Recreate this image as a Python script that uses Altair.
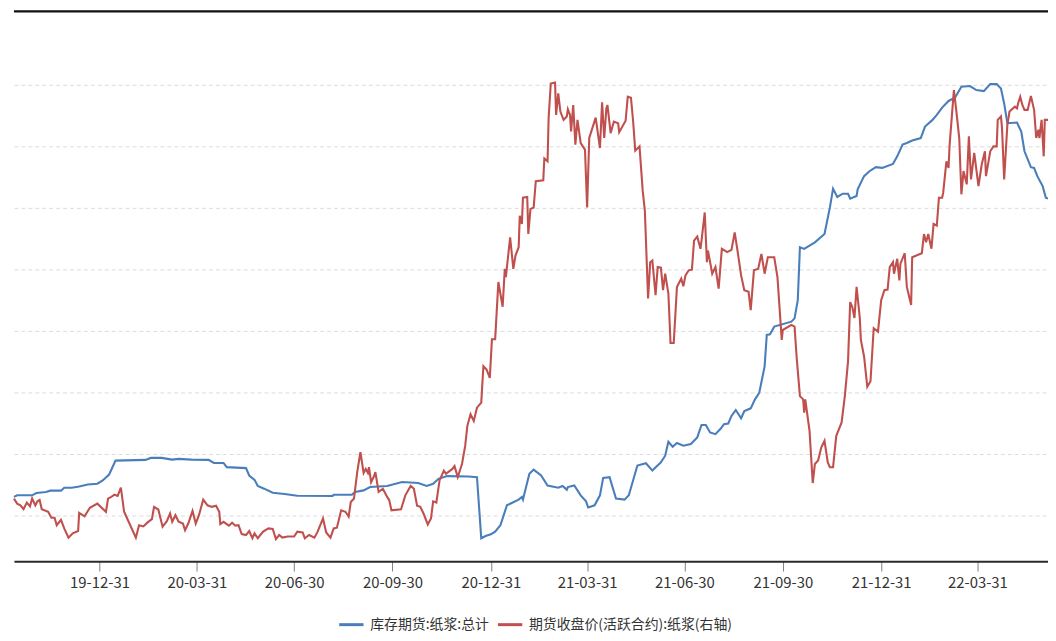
import altair as alt
import pandas as pd

NAME_B = "库存期货:纸浆:总计"
NAME_R = "期货收盘价(活跃合约):纸浆(右轴)"

blue_dates = [
    "2019-10-12", "2019-10-15", "2019-10-29", "2019-11-02", "2019-11-11", "2019-11-15",
    "2019-11-25", "2019-11-28", "2019-12-05", "2019-12-12", "2019-12-20", "2019-12-29",
    "2020-01-03", "2020-01-09", "2020-01-15", "2020-02-12", "2020-02-17", "2020-02-27",
    "2020-03-08", "2020-03-14", "2020-03-26", "2020-04-11", "2020-04-16", "2020-04-25",
    "2020-04-28", "2020-05-16", "2020-05-19", "2020-05-24", "2020-05-27", "2020-06-02",
    "2020-06-10", "2020-06-21", "2020-07-03", "2020-08-05", "2020-08-06", "2020-08-23",
    "2020-08-26", "2020-09-03", "2020-09-09", "2020-09-25", "2020-10-09", "2020-10-24",
    "2020-11-01", "2020-11-07", "2020-11-12", "2020-11-20", "2020-12-10", "2020-12-18",
    "2020-12-22", "2020-12-26", "2020-12-31", "2021-01-04", "2021-01-09", "2021-01-15",
    "2021-01-26", "2021-01-29", "2021-01-30", "2021-02-05", "2021-02-09", "2021-02-16",
    "2021-02-22", "2021-03-04", "2021-03-08", "2021-03-12", "2021-03-13", "2021-03-19",
    "2021-03-25", "2021-03-30", "2021-04-01", "2021-04-07", "2021-04-12", "2021-04-15",
    "2021-04-21", "2021-04-27", "2021-05-05", "2021-05-09", "2021-05-17", "2021-05-25",
    "2021-05-31", "2021-06-08", "2021-06-12", "2021-06-15", "2021-06-19", "2021-06-23",
    "2021-06-29", "2021-07-06", "2021-07-12", "2021-07-16", "2021-07-20", "2021-07-24",
    "2021-07-29", "2021-08-03", "2021-08-06", "2021-08-10", "2021-08-13", "2021-08-17",
    "2021-08-22", "2021-08-25", "2021-08-31", "2021-09-04", "2021-09-08", "2021-09-13",
    "2021-09-15", "2021-09-18", "2021-09-22", "2021-10-08", "2021-10-11", "2021-10-14",
    "2021-10-16", "2021-10-20", "2021-10-30", "2021-11-08", "2021-11-13", "2021-11-16",
    "2021-11-20", "2021-11-25", "2021-11-30", "2021-12-02", "2021-12-08", "2021-12-09",
    "2021-12-15", "2021-12-20", "2021-12-26", "2022-01-01", "2022-01-11", "2022-01-15",
    "2022-01-20", "2022-01-24", "2022-01-29", "2022-02-06", "2022-02-10", "2022-02-17",
    "2022-02-21", "2022-02-26", "2022-03-04", "2022-03-10", "2022-03-16", "2022-03-24",
    "2022-03-30", "2022-04-06", "2022-04-12", "2022-04-18", "2022-04-22", "2022-04-25",
    "2022-04-28", "2022-05-07", "2022-05-11", "2022-05-14", "2022-05-20", "2022-05-23",
    "2022-05-26", "2022-05-31", "2022-06-03", "2022-06-05",
]
blue_vals = [
    6.51, 6.64, 6.64, 6.83, 6.91, 7.02,
    7.02, 7.26, 7.26, 7.36, 7.52, 7.58,
    7.85, 8.33, 9.46, 9.52, 9.68, 9.68,
    9.54, 9.60, 9.54, 9.52, 9.27, 9.27,
    8.93, 8.85, 8.25, 7.90, 7.40, 7.18,
    6.85, 6.75, 6.61, 6.59, 6.69, 6.69,
    6.91, 7.04, 7.31, 7.40, 7.72, 7.64,
    7.40, 7.58, 7.98, 8.20, 8.17, 8.12,
    3.15, 3.33, 3.47, 3.69, 4.22, 5.83,
    6.29, 6.51, 6.29, 8.39, 8.73, 8.25,
    7.44, 7.26, 7.40, 7.10, 7.31, 7.44,
    6.64, 6.15, 5.65, 5.83, 6.64, 8.06,
    8.12, 6.37, 6.29, 6.64, 9.06, 9.25,
    8.65, 9.33, 9.86, 10.99, 10.59, 10.89,
    10.67, 10.81, 11.35, 12.36, 12.36, 11.75,
    11.61, 12.07, 12.42, 12.48, 13.09, 13.57,
    12.90, 13.49, 13.71, 14.44, 14.98, 17.12,
    19.68, 19.73, 20.35, 20.75, 21.02, 22.50,
    26.80, 26.67, 27.20, 27.88, 30.02, 31.56,
    30.89, 31.15, 31.15, 30.75, 30.97, 31.51,
    32.58, 32.98, 33.31, 33.25, 33.57, 34.19,
    35.14, 35.27, 35.48, 35.67, 36.61, 37.15,
    37.56, 38.15, 38.69, 38.95, 39.84, 39.90,
    39.57, 39.49, 40.06, 40.06, 39.70, 38.49,
    36.88, 36.94, 36.21, 34.60, 33.31, 33.25,
    32.58, 31.77, 30.83, 30.75,
]

red_dates = [
    "2019-10-12", "2019-10-15", "2019-10-18", "2019-10-21", "2019-10-24", "2019-10-27",
    "2019-10-29", "2019-11-01", "2019-11-03", "2019-11-05", "2019-11-07", "2019-11-13",
    "2019-11-16", "2019-11-19", "2019-11-21", "2019-11-25", "2019-11-28", "2019-12-02",
    "2019-12-06", "2019-12-11", "2019-12-12", "2019-12-17", "2019-12-22", "2019-12-29",
    "2020-01-02", "2020-01-06", "2020-01-08", "2020-01-11", "2020-01-14", "2020-01-17",
    "2020-01-20", "2020-01-23", "2020-01-28", "2020-02-03", "2020-02-06", "2020-02-10",
    "2020-02-14", "2020-02-18", "2020-02-20", "2020-02-24", "2020-02-28", "2020-03-03",
    "2020-03-06", "2020-03-08", "2020-03-11", "2020-03-14", "2020-03-18", "2020-03-20",
    "2020-03-23", "2020-03-27", "2020-03-30", "2020-04-02", "2020-04-06", "2020-04-10",
    "2020-04-14", "2020-04-18", "2020-04-21", "2020-04-22", "2020-04-25", "2020-04-30",
    "2020-05-03", "2020-05-06", "2020-05-09", "2020-05-12", "2020-05-16", "2020-05-19",
    "2020-05-22", "2020-05-24", "2020-05-27", "2020-06-01", "2020-06-06", "2020-06-10",
    "2020-06-13", "2020-06-16", "2020-06-19", "2020-06-24", "2020-06-30", "2020-07-03",
    "2020-07-08", "2020-07-10", "2020-07-14", "2020-07-19", "2020-07-22", "2020-07-27",
    "2020-07-30", "2020-08-03", "2020-08-06", "2020-08-09", "2020-08-13", "2020-08-17",
    "2020-08-20", "2020-08-22", "2020-08-25", "2020-08-28", "2020-08-31", "2020-09-03",
    "2020-09-05", "2020-09-07", "2020-09-08", "2020-09-10", "2020-09-13", "2020-09-14",
    "2020-09-17", "2020-09-21", "2020-09-25", "2020-09-27", "2020-09-29", "2020-10-08",
    "2020-10-12", "2020-10-17", "2020-10-20", "2020-10-23", "2020-10-26", "2020-10-29",
    "2020-11-02", "2020-11-05", "2020-11-07", "2020-11-10", "2020-11-13", "2020-11-17",
    "2020-11-19", "2020-11-25", "2020-11-27", "2020-11-30", "2020-12-04", "2020-12-07",
    "2020-12-09", "2020-12-12", "2020-12-15", "2020-12-18", "2020-12-22", "2020-12-24",
    "2020-12-27", "2020-12-30", "2021-01-01", "2021-01-04", "2021-01-07", "2021-01-11",
    "2021-01-13", "2021-01-14", "2021-01-18", "2021-01-21", "2021-01-23", "2021-01-26",
    "2021-01-27", "2021-01-29", "2021-01-30", "2021-02-03", "2021-02-04", "2021-02-06",
    "2021-02-09", "2021-02-11", "2021-02-18", "2021-02-19", "2021-02-22", "2021-02-23",
    "2021-02-25", "2021-03-01", "2021-03-02", "2021-03-04", "2021-03-06", "2021-03-09",
    "2021-03-12", "2021-03-13", "2021-03-15", "2021-03-16", "2021-03-18", "2021-03-20",
    "2021-03-22", "2021-03-25", "2021-03-29", "2021-03-31", "2021-04-02", "2021-04-08",
    "2021-04-12", "2021-04-14", "2021-04-16", "2021-04-18", "2021-04-19", "2021-04-22",
    "2021-04-25", "2021-04-29", "2021-04-30", "2021-05-06", "2021-05-08", "2021-05-11",
    "2021-05-13", "2021-05-15", "2021-05-19", "2021-05-22", "2021-05-24", "2021-05-27",
    "2021-05-29", "2021-05-31", "2021-06-03", "2021-06-05", "2021-06-08", "2021-06-10",
    "2021-06-12", "2021-06-15", "2021-06-17", "2021-06-20", "2021-06-23", "2021-06-27",
    "2021-06-29", "2021-07-01", "2021-07-04", "2021-07-07", "2021-07-09", "2021-07-12",
    "2021-07-15", "2021-07-16", "2021-07-19", "2021-07-21", "2021-07-22", "2021-07-26",
    "2021-07-29", "2021-08-01", "2021-08-04", "2021-08-09", "2021-08-13", "2021-08-16",
    "2021-08-19", "2021-08-22", "2021-08-25", "2021-08-29", "2021-08-31", "2021-09-03",
    "2021-09-07", "2021-09-10", "2021-09-13", "2021-09-16", "2021-09-22", "2021-09-25",
    "2021-09-29", "2021-09-30", "2021-10-08", "2021-10-11", "2021-10-13", "2021-10-16",
    "2021-10-19", "2021-10-20", "2021-10-21", "2021-10-25", "2021-10-28", "2021-10-30",
    "2021-11-02", "2021-11-05", "2021-11-08", "2021-11-11", "2021-11-13", "2021-11-16",
    "2021-11-19", "2021-11-24", "2021-11-27", "2021-11-30", "2021-12-02", "2021-12-04",
    "2021-12-06", "2021-12-08", "2021-12-11", "2021-12-12", "2021-12-15", "2021-12-18",
    "2021-12-21", "2021-12-24", "2021-12-28", "2021-12-31", "2022-01-03", "2022-01-06",
    "2022-01-08", "2022-01-11", "2022-01-12", "2022-01-15", "2022-01-17", "2022-01-18",
    "2022-01-22", "2022-01-24", "2022-01-28", "2022-01-29", "2022-02-07", "2022-02-09",
    "2022-02-11", "2022-02-13", "2022-02-16", "2022-02-18", "2022-02-21", "2022-02-23",
    "2022-02-26", "2022-02-27", "2022-03-02", "2022-03-04", "2022-03-05", "2022-03-09",
    "2022-03-11", "2022-03-14", "2022-03-16", "2022-03-18", "2022-03-21", "2022-03-23",
    "2022-03-25", "2022-03-28", "2022-04-01", "2022-04-04", "2022-04-07", "2022-04-08",
    "2022-04-12", "2022-04-15", "2022-04-18", "2022-04-19", "2022-04-22", "2022-04-23",
    "2022-04-25", "2022-04-28", "2022-04-30", "2022-05-05", "2022-05-07", "2022-05-08",
    "2022-05-10", "2022-05-12", "2022-05-14", "2022-05-17", "2022-05-20", "2022-05-23",
    "2022-05-25", "2022-05-27", "2022-05-28", "2022-05-30", "2022-06-01", "2022-06-02",
    "2022-06-05",
]
red_vals = [
    4510, 4477, 4466, 4441, 4484, 4460,
    4510, 4466, 4492, 4501, 4441, 4424,
    4385, 4385, 4337, 4372, 4316, 4256,
    4284, 4299, 4417, 4395, 4450, 4477,
    4450, 4424, 4510, 4521, 4535, 4527,
    4581, 4424, 4348, 4256, 4337, 4329,
    4355, 4376, 4456, 4439, 4327, 4363,
    4413, 4359, 4402, 4359, 4348, 4305,
    4348, 4430, 4348, 4402, 4503, 4466,
    4456, 4463, 4424, 4344, 4359, 4334,
    4353, 4334, 4337, 4279, 4273, 4299,
    4252, 4284, 4252, 4295, 4316, 4312,
    4247, 4273, 4256, 4263, 4263, 4295,
    4290, 4252, 4273, 4256, 4295, 4381,
    4290, 4256, 4316, 4321, 4434, 4424,
    4392, 4488, 4510, 4682, 4811, 4677,
    4703, 4677, 4714, 4617, 4660, 4682,
    4553, 4574, 4521, 4499, 4434, 4441,
    4531, 4592, 4574, 4463, 4456, 4413,
    4342, 4381, 4492, 4484, 4628, 4692,
    4671, 4703, 4721, 4650, 4735, 4854,
    4983, 5058, 5015, 5101, 5134, 5370,
    5348, 5295, 5546, 5546, 5918, 5757,
    6004, 5950, 6208, 6004, 6090, 6144,
    6348, 6295, 6466, 6471, 6230, 6392,
    6402, 6574, 6579, 6721, 6703, 6983,
    7208, 7215, 7004, 7144, 7026, 6972,
    6994, 7041, 7004, 6897, 7069, 6811,
    6972, 6821, 6779, 6402, 6854, 6987,
    6789, 7086, 6854, 7047, 7069, 6886,
    6961, 6950, 6892, 6966, 7123, 7116,
    6966, 6772, 6800, 6510, 6381, 5811,
    6047, 6058, 5832, 6015, 6011, 5865,
    5972, 5843, 5521, 5521, 5886, 5940,
    5890, 5961, 5994, 5998, 6187, 6213,
    6134, 6187, 6370, 6047, 6123, 5972,
    6015, 5875, 6134, 6112, 6127, 6241,
    6105, 5961, 5865, 5854, 5735, 5994,
    6004, 6101, 5972, 6079, 6079, 5950,
    5542, 5606, 5639, 5628, 5424, 5176,
    5155, 5069, 5155, 4950, 4611, 4735,
    4757, 4843, 4886, 4746, 4714, 4714,
    4918, 5005, 5176, 5402, 5787, 5755,
    5684, 5886, 5684, 5542, 5434, 5237,
    5273, 5617, 5595, 5800, 5865, 5869,
    6015, 6047, 5972, 6069, 5929, 6037,
    6105, 5886, 5768, 6079, 6105, 6230,
    6176, 6230, 6134, 6295, 6284, 6466,
    6466, 6499, 6703, 6660, 6811, 7166,
    7047, 6854, 6488, 6639, 6553, 6865,
    6585, 6757, 6542, 6682, 6768, 6606,
    6768, 6800, 6800, 6972, 6994, 6918,
    6585, 6940, 7026, 7058, 7047, 7079,
    7123, 7069, 7037, 7037, 7127, 7037,
    6854, 6908, 6854, 6972, 6735, 6972,
    6972,
]

tick_dates = [
    (2019, 12, 31), (2020, 3, 31), (2020, 6, 30), (2020, 9, 30), (2020, 12, 31),
    (2021, 3, 31), (2021, 6, 30), (2021, 9, 30), (2021, 12, 31), (2022, 3, 31),
]
left_ticks = [5, 10, 15, 20, 25, 30, 35, 40]

FONT = "Noto Sans CJK SC"
W, H = 1042, 555

df_b = pd.DataFrame({"date": blue_dates, "v": blue_vals, "series": NAME_B})
df_r = pd.DataFrame({"date": red_dates, "v": red_vals, "series": NAME_R})

x_enc = alt.X(
    "date:T",
    scale=alt.Scale(
        type="utc",
        domain=[alt.DateTime(year=2019, month=10, date=12, utc=True),
                alt.DateTime(year=2022, month=6, date=5, utc=True)],
    ),
    axis=alt.Axis(
        values=[alt.DateTime(year=y, month=m, date=d, utc=True) for y, m, d in tick_dates],
        format="%y-%m-%d", title=None, grid=False,
        labelFont=FONT, labelFontSize=15, labelColor="#333333", labelPadding=5,
        tickSize=10, tickColor="#7f7f7f", tickWidth=1,
        domainColor="#2a2a2a", domainWidth=2, labelFlush=False,
    ),
)

color_enc = alt.Color(
    "series:N",
    scale=alt.Scale(domain=[NAME_B, NAME_R], range=["#4a7ebb", "#c0504d"]),
    legend=alt.Legend(
        orient="none", legendX=326, legendY=605, direction="horizontal",
        title=None, symbolType="stroke", symbolStrokeWidth=3, symbolSize=600,
        labelFont=FONT, labelFontSize=14, labelColor="#333333", labelLimit=500,
        labelOffset=5, columnPadding=2, padding=0,
    ),
)

blue = alt.Chart(df_b).mark_line(strokeWidth=2.1).encode(
    x=x_enc,
    y=alt.Y(
        "v:Q",
        scale=alt.Scale(domain=[1.29, 46.05], nice=False, zero=False),
        axis=alt.Axis(values=left_ticks, labels=False, ticks=False, domain=False,
                      title=None, grid=True, gridDash=[4, 3], gridColor="#dcdcdc",
                      gridWidth=1),
    ),
    color=color_enc,
)

red = alt.Chart(df_r).mark_line(strokeWidth=2.1).encode(
    x=x_enc,
    y=alt.Y("v:Q", scale=alt.Scale(domain=[4103.2, 7683.9], nice=False, zero=False),
            axis=None),
    color=color_enc,
)

top_rule = alt.Chart(pd.DataFrame({"a": [0]})).mark_rule(
    color="#111111", strokeWidth=2.4
).encode(x=alt.value(0), x2=alt.value(W), y=alt.value(1))

chart = (
    alt.layer(blue, red, top_rule)
    .resolve_scale(y="independent")
    .properties(
        width=W, height=H,
        autosize=alt.AutoSizeParams(type="none"),
        padding={"left": 6, "top": 0, "right": 0, "bottom": 70},
    )
    .configure_view(stroke=None)
)

chart.save("out.html", embed_options={"renderer": "svg", "actions": False})
